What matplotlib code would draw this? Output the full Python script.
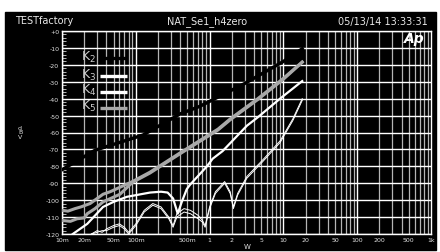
import matplotlib
matplotlib.use("Agg")
import matplotlib.pyplot as plt
from matplotlib.patches import Rectangle

# readings: power (W) vs level (dBV)
k2_w = [0.01, 0.028, 0.125, 0.4, 0.74, 3, 10, 18]
k2_db = [-82, -70.5, -61.5, -49, -44.5, -31, -18, -10.5]

k5a_w = [0.01, 0.012, 0.015, 0.018, 0.024, 0.036, 0.045, 0.09, 0.155, 0.4, 1.3, 1.9, 4.5, 10, 18]
k5a_db = [-106, -106.5, -105, -104, -102, -96.5, -95, -89, -83.5, -72, -58, -52, -40, -28, -18.3]

k5b_w = [0.01, 0.013, 0.016, 0.02, 0.022, 0.028, 0.036, 0.061, 0.09, 0.155, 0.4, 1.3, 1.9, 4.5, 10, 18]
k5b_db = [-112, -112.5, -111, -110.5, -108, -105, -101, -96.5, -89.5, -84, -72.5, -58.5, -52.5, -40.5, -28.5, -18.5]

k3_w = [0.014, 0.022, 0.036, 0.05, 0.076, 0.156, 0.22, 0.27, 0.32, 0.37, 0.42, 0.49, 0.54, 0.92, 1.1, 1.5, 3.2, 4.5, 9, 18]
k3_db = [-120, -114, -104, -101, -98, -95.5, -95, -95.5, -99, -108, -101, -93.5, -91, -80, -75.5, -71, -56, -51, -40, -29.6]

k4a_w = [0.025, 0.03, 0.035, 0.04, 0.05, 0.06, 0.07, 0.08, 0.1, 0.13, 0.17, 0.22, 0.28, 0.32, 0.36, 0.45, 0.55, 0.7, 0.8, 0.87,
         1.0, 1.2, 1.6, 1.9, 2.1, 2.4, 3.2, 5.3, 9, 13.4, 18]
k4a_db = [-120, -118, -119, -117, -115, -114, -116, -119, -114, -106, -102, -104, -110, -115, -108, -105, -106, -109, -112, -115,
          -104, -95, -89, -95, -104, -96, -86, -76, -65, -52, -40]
k4b_db = [-120, -119, -118, -118, -116, -115, -117, -120, -115, -107, -103, -105, -111, -116, -110, -107, -108, -111, -113, -116,
          -105, -96, -90, -96, -105, -97, -87, -77, -66, -53, -41]

xtick_vals = [0.01, 0.02, 0.05, 0.1, 0.5, 1, 2, 5, 10, 20, 50, 100, 200, 500, 1000]
xtick_text = ["10m", "20m", "50m", "100m", "500m", "1", "2", "5", "10", "20", "50", "100", "200", "500", "1k"]
ytick_vals = list(range(-120, 1, 10))
ytick_text = ["+0" if v == 0 else str(v) for v in ytick_vals]

legend_names = ["K$\\mathregular{_2}$", "K$\\mathregular{_3}$", "K$\\mathregular{_4}$", "K$\\mathregular{_5}$"]
legend_colors = ["black", "white", "white", "#a8a8a8"]

fig = plt.figure(figsize=(4.4, 2.53), dpi=100, facecolor="white")
fig.patches.append(Rectangle((5 / 440, 2 / 253), 431 / 440, 238 / 253,
                             transform=fig.transFigure, color="black", zorder=-10))
ax = fig.add_axes([62 / 440, 1 - 235 / 253, 369 / 440, 203 / 253], facecolor="black")
ax.set_zorder(5)

ax.set_xscale("log")
ax.set_xlim(0.01, 1000)
ax.set_ylim(-120, 0)

# grid
for dec in [0.01, 0.1, 1, 10, 100]:
    for m in range(1, 10):
        v = dec * m
        if m == 1:
            ax.axvline(v, color="white", lw=1.0, zorder=1)
        else:
            ax.axvline(v, color="#b4b4b4", lw=0.9, zorder=1)
for v in ytick_vals:
    ax.axhline(v, color="white", lw=1.0, zorder=1)

ax.plot(k5a_w, k5a_db, color="#a8a8a8", lw=2.2, zorder=3)
ax.plot(k5b_w, k5b_db, color="#a8a8a8", lw=2.2, zorder=3)
ax.plot(k3_w, k3_db, color="white", lw=1.6, zorder=3)
ax.plot(k4a_w, k4a_db, color="white", lw=0.7, zorder=3)
ax.plot(k4a_w, k4b_db, color="white", lw=0.7, zorder=3)
ax.plot(k2_w, k2_db, color="black", lw=2.4, zorder=4)

# legend drawn by hand
for i, (name, col) in enumerate(zip(legend_names, legend_colors)):
    yy = [0.867, 0.778, 0.700, 0.621][i]
    ax.plot([0.103, 0.176], [yy, yy], transform=ax.transAxes, color=col, lw=2.4, zorder=5,
            solid_capstyle="butt")
    ax.text(0.052, yy + 0.01, name, transform=ax.transAxes, color="#cfcfcf", fontsize=9,
            ha="left", va="center", zorder=5)

ax.text(0.955, 0.965, "Ap", transform=ax.transAxes, color="white", fontsize=10,
        fontweight="bold", fontstyle="italic", ha="center", va="center", zorder=6)

ax.set_xticks(xtick_vals)
ax.set_xticklabels(xtick_text)
ax.set_xticks([], minor=True)
ax.set_yticks(ytick_vals)
ax.set_yticklabels(ytick_text)
ax.set_yticks(range(-120, 1, 2), minor=True)
ax.tick_params(axis="both", which="major", length=0, colors="#e0e0e0", labelsize=4.5, pad=2)
ax.tick_params(axis="y", which="minor", length=3, width=0.5, color="white", direction="in")
for s in ax.spines.values():
    s.set_color("white")
    s.set_linewidth(1.0)

fig.text(247 / 440, 1 - 247 / 253, "W", color="#e0e0e0", fontsize=5, ha="center", va="center")
fig.text(20 / 440, 1 - 133 / 253, "d\nB\nV", color="#e0e0e0", fontsize=4.5, ha="center", va="center",
         linespacing=0.9)

fig.text(15 / 440, 1 - 21.5 / 253, "TESTfactory", color="#e8e8e8", fontsize=7, ha="left", va="center")
fig.text(207 / 440, 1 - 21.5 / 253, "NAT_Se1_h4zero", color="#e8e8e8", fontsize=7, ha="center", va="center")
fig.text(428 / 440, 1 - 21.5 / 253, "05/13/14 13:33:31", color="#e8e8e8", fontsize=7, ha="right", va="center")

fig.savefig("out.png", dpi=100, facecolor="white")
